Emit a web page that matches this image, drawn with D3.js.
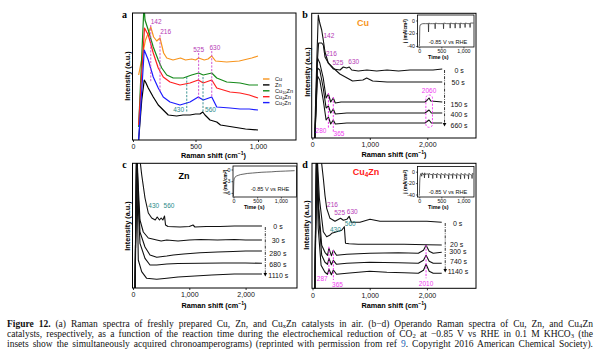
<!DOCTYPE html>
<html><head><meta charset="utf-8">
<script src="https://cdn.jsdelivr.net/npm/d3@7"></script>
<style>body{margin:0;background:#fff}svg{display:block}</style>
</head><body>
<script>
// ================= DATA =================
// Panel a: Raman spectra in air  [shift cm-1, intensity a.u.]
const legendNames  = [["Cu"],["Zn"],["Cu","10","Zn"],["Cu","4","Zn"],["Cu","2","Zn"]];
const legendColors = ["#f7941d","#000000","#15891a","#ff1f1f","#1c1cff"];
const aCu     = [[45,65],[100,100],[142,113],[165,103],[190,99],[216,102],[245,87],[270,82],[320,80],[380,82],[420,80],[470,81],[500,80],[525,82],[570,80],[600,81],[630,84],[660,79],[750,78],[850,79],[950,82],[1000,84]];
const aZn     = [[45,0],[70,40],[90,60],[100,58],[122,52],[162,43],[202,35],[242,30],[282,25],[349,24],[400,25],[456,25],[500,26],[536,26],[558,28],[576,25],[616,20],[670,18],[700,15],[800,13],[900,11],[1000,10]];
const aCu10Zn = [[45,13],[88,135],[96,120],[122,110],[162,93],[202,80],[230,72],[270,65],[322,62],[402,62],[469,65],[525,67],[562,65],[630,67],[670,62],[750,58],[856,57],[930,55],[1000,55]];
const aCu4Zn  = [[45,15],[92,112],[122,105],[162,87],[202,72],[242,63],[296,58],[376,55],[456,57],[522,60],[562,57],[630,60],[670,52],[776,48],[856,47],[930,45],[1000,42]];
const aCu2Zn  = [[45,0],[90,90],[122,80],[162,63],[202,52],[242,43],[296,38],[376,35],[456,38],[522,43],[562,40],[630,43],[670,33],[776,32],[856,31],[930,31],[1000,30]];
const aSeries = [aCu, aZn, aCu10Zn, aCu4Zn, aCu2Zn];

// Panel b: operando Cu
const bTimes = ["0 s","50 s","150 s","400 s","660 s"];
const b0   = [[40,0],[80,80],[104,123],[130,115],[163,108],[191,98],[221,86],[278,75],[365,69],[482,68],[539,71],[597,70],[643,71],[685,68],[800,67],[950,68],[1120,67],[1300,68],[1500,67],[1699,68],[1900,68],[2100,68],[2260,69]];
const b50  = [[45,0],[80,70],[110,95],[163,95],[191,93],[221,81],[278,75],[365,70],[480,64],[700,57],[880,58],[946,60],[1050,57],[1300,56],[1600,56],[1900,56],[2260,56]];
const b150 = [[45,0],[90,80],[130,75],[190,60],[240,40],[280,44],[320,36],[365,40],[400,35],[500,36],[800,36],[1200,36],[1600,36],[1960,36],[2000,38],[2030,40],[2060,37],[2260,36]];
const b400 = [[45,0],[90,70],[130,68],[190,50],[240,30],[280,32],[320,25],[365,29],[400,24],[600,25],[1000,25],[1500,25],[1960,25],[2030,28],[2070,25],[2260,25]];
const b660 = [[45,0],[90,62],[130,58],[190,38],[240,18],[280,21],[320,14],[365,18],[400,14],[600,15],[1000,15],[1500,15],[1960,15],[2030,18],[2070,15],[2260,15]];
const bSeries = [b0, b50, b150, b400, b660];
const bInsetT = [0,6,12,20,40,80,140,205,210,216,250,300,355,360,366,420,490,545,550,556,620,695,700,706,760,808,813,819,870,920,925,931,980,1033,1038,1044,1100,1146,1151,1157,1230];
const bInsetJ = [-40,-36,-10,-7,-6,-5,-5,-5,-18,-4,-5,-5,-5,-13,-4,-5,-5,-5,-13,-4,-5,-5,-12,-4,-5,-5,-12,-4,-5,-5,-12,-4,-5,-5,-11,-4,-5,-5,-11,-4,-4];

// Panel c: operando Zn
const cTimes = ["0 s","30 s","280 s","680 s","1110 s"];
const c0    = [[35,-5],[75,140],[120,130],[155,113],[213,90],[272,75],[332,70],[395,68],[430,71],[470,68],[500,70],[530,68],[560,72],[578,63],[622,61.5],[835,61],[1000,61.5],[1066,63],[1100,61],[1300,61.5],[1545,61.5],[1800,62],[1990,62],[2290,62]];
const c30   = [[35,-5],[65,140],[95,100],[124,68],[183,56],[272,50],[421,48],[500,47],[600,48],[800,47],[1000,48],[1200,48.5],[1500,48],[1800,48.5],[2000,48],[2290,48]];
const c280  = [[35,-5],[65,140],[95,90],[124,56],[213,41],[302,33],[421,30.7],[600,32],[716,33],[900,34],[1190,35.3],[1500,36],[1776,36.5],[2000,37],[2290,37]];
const c680  = [[35,-5],[65,140],[95,80],[124,44.7],[213,29.7],[302,23],[421,23],[600,24],[800,24.5],[1200,24.7],[1600,25],[2000,25],[2290,24.7]];
const c1110 = [[35,-5],[62,140],[85,60],[94,28],[154,16.3],[243,9.7],[421,8.7],[600,9.7],[800,11],[1100,12],[1400,13],[1800,14],[2290,14]];
const cSeries = [c0, c30, c280, c680, c1110];
const cInsetT = [0,4,8,15,30,60,100,150,200,300,400,500,600,700,800,900,1000,1100,1200,1290];
const cInsetJ = [-6.8,-4.5,-3,-2.4,-2,-1.7,-1.5,-1.3,-1.2,-1.0,-0.9,-0.8,-0.7,-0.65,-0.6,-0.5,-0.45,-0.4,-0.35,-0.3];

// Panel d: operando Cu4Zn
const dTimes = ["0 s","20 s","300 s","740 s","1140 s"];
const d0    = [[40,-5],[80,140],[150,130],[189,110],[218,93],[248,80],[306,70],[393,67],[490,70],[540,68],[600,69],[640,72],[680,66],[830,66],[1005,69],[1180,67],[1400,67],[1705,67],[2000,67],[2259,66]];
const d20   = [[40,-5],[75,140],[120,90],[189,56.6],[248,51.6],[300,53],[336,55],[423,56.6],[510,58],[556,61.6],[577,45],[640,44.5],[800,44],[1200,44],[1600,44],[2000,43.5],[2259,43.3]];
const d300  = [[40,-5],[72,140],[110,80],[161,43],[218,36],[262,33],[287,40],[330,32.6],[365,38],[420,33],[600,34],[1000,35],[1500,35.5],[1850,35],[1940,38],[1985,43],[2040,37],[2110,35],[2259,36]];
const d740  = [[40,-5],[70,140],[110,70],[161,33],[218,26],[262,24],[287,30],[330,23.5],[365,28],[420,24],[600,25],[1000,26],[1500,25.5],[1850,25],[1940,28],[1985,33],[2040,27],[2110,25],[2259,25]];
const d1140 = [[40,-5],[68,140],[100,60],[150,23],[218,16],[262,14],[287,19.3],[330,13.5],[365,18.3],[420,14],[600,15],[1000,17],[1300,16],[1600,15.5],[1850,15],[1940,18],[1985,24],[2040,17],[2110,15],[2259,15]];
const dSeries = [d0, d20, d300, d740, d1140];
const dInsetT = [0,4,10,16,25,40,55,70,90,110,118,124,135,170,205,212,220,260,300,306,314,350,390,396,404,440,480,486,494,530,570,576,584,620,660,666,674,710,750,756,764,800,840,846,854,890,930,936,944,980,1020,1026,1034,1070,1110,1116,1124,1160,1190,1196,1204,1230];
const dInsetJ = [-42,-38,-20,-10,-6,-3,-8,-2,-5,-4,-11,-2,-5,-4,-4,-11,-3,-5,-5,-12,-3,-5,-5,-11,-3,-5,-6,-12,-3,-5,-6,-11,-3,-6,-6,-13,-3,-6,-5,-12,-3,-6,-6,-12,-3,-6,-6,-13,-3,-5,-6,-12,-3,-6,-6,-13,-3,-5,-6,-12,-3,-4];

const xTicksA = [0,500,1000];
const xTicksB = [0,1000,2000];
const insetXTicks = [0,500,1000];

// Caption
const captionLines = [
  [["Figure 12.","b"],[" (a) Raman spectra of freshly prepared Cu, Zn, and Cu"],["x","sub"],["Zn catalysts in air. (b\u2212d) Operando Raman spectra of Cu, Zn, and Cu"],["4","sub"],["Zn"]],
  [["catalysts, respectively, as a function of the reaction time during the electrochemical reduction of CO"],["2","sub"],[" at \u22120.85 V vs RHE in 0.1 M KHCO"],["3","sub"],[" (the"]],
  [["insets show the simultaneously acquired chronoamperograms) (reprinted with permission from ref "],["9","link"],[". Copyright 2016 American Chemical Society)."]]
];

// ================= DRAWING =================
const FONT = '"Liberation Sans", Arial, Helvetica, sans-serif';
const SERIF = '"Liberation Serif", "DejaVu Serif", serif';
const svg = d3.select("body").append("svg").attr("width",600).attr("height",356);
svg.append("rect").attr("width",600).attr("height",356).attr("fill","#fff");

const MAG = "#b63ab6", PINK = "#f03cf0", TEAL = "#2b8a8a";

function rich(sel, parts, baseSize, subShift){
  const sd = subShift===undefined ? 0.25 : subShift;
  parts.forEach(p=>{
    const t = sel.append("tspan").text(p[0]);
    if(p[1]==="sub"){ t.attr("dy", baseSize*sd).attr("font-size",baseSize*0.7); }
    if(p[1]==="sup"){ t.attr("dy", -baseSize*0.35).attr("font-size",baseSize*0.7); }
    if(p[1]==="b"){ t.attr("font-weight","bold"); }
    if(p[1]==="link"){ t.attr("fill","#1a5fb4"); }
    if(p[1]==="sub"||p[1]==="sup") sel.node()._shift = (p[1]==="sub"? -baseSize*sd : baseSize*0.35);
    else if(sel.node()._shift){ t.attr("dy", sel.node()._shift); sel.node()._shift = 0; }
  });
  return sel;
}

let clipN = 0;
function makePanel(p){
  const x = d3.scaleLinear().domain([0,p.xMax]).range([p.x0,p.x1]);
  const y = d3.scaleLinear().domain([0,p.yMax]).range([p.bottom,p.top]);
  const id = "clip"+(clipN++);
  svg.append("clipPath").attr("id",id).append("rect")
    .attr("x",p.left).attr("y",p.top).attr("width",p.right-p.left).attr("height",p.bottom-p.top);
  const g = svg.append("g").attr("clip-path",`url(#${id})`);
  const ax = svg.append("g").attr("transform",`translate(0,${p.bottom})`)
    .call(d3.axisBottom(x).tickValues(p.ticks).tickSize(2).tickPadding(2.5).tickFormat(d3.format(",")));
  ax.select(".domain").remove();
  ax.selectAll("text").attr("font-size",7).attr("font-family",FONT).attr("fill","#111");
  ax.selectAll("line").attr("stroke","#000").attr("stroke-width",0.8);
  svg.append("rect").attr("x",p.left).attr("y",p.top).attr("width",p.right-p.left).attr("height",p.bottom-p.top)
    .attr("fill","none").attr("stroke","#000").attr("stroke-width",1);
  const xt = svg.append("text").attr("x",p.xTitleX).attr("y",p.xTitleY).attr("text-anchor","middle")
    .attr("font-family",FONT).attr("font-size",7.3).attr("font-weight","bold");
  rich(xt,[["Raman shift (cm"],["\u22121","sup"],[")"]],7.3);
  svg.append("text").attr("transform",`translate(${p.yTitleX},${p.yTitleY}) rotate(-90)`)
    .attr("text-anchor","middle").attr("dy","0.35em").attr("font-family",FONT).attr("font-size",7.3)
    .attr("font-weight","bold").text("Intensity (a.u.)");
  svg.append("text").attr("x",p.letterX).attr("y",p.letterY).attr("text-anchor","middle")
    .attr("font-family",SERIF).attr("font-size",10).attr("font-weight","bold").text(p.letter);
  return {x,y,g};
}

function drawSeries(P, series, colors, width){
  const line = d3.line().x(d=>P.x(d[0])).y(d=>P.y(d[1]));
  series.forEach((s,i)=>{
    P.g.append("path").attr("d",line(s)).attr("fill","none")
      .attr("stroke",colors[i]).attr("stroke-width",width).attr("stroke-linejoin","round");
  });
}

function label(P, txt, sx, iy, color, anchor, size){
  svg.append("text").attr("x",P.x(sx)).attr("y",P.y(iy)).attr("text-anchor",anchor||"middle")
    .attr("font-family",FONT).attr("font-size",size||6.5).attr("fill",color).text(txt);
}
function vdash(P, sx, i0, i1, color, w){
  svg.append("line").attr("x1",P.x(sx)).attr("x2",P.x(sx)).attr("y1",P.y(i0)).attr("y2",P.y(i1))
    .attr("stroke",color).attr("stroke-width",w||0.9).attr("stroke-dasharray","2.2,1.4");
}
function timeLabels(P, names, xs, ys){
  names.forEach((n,i)=>{
    svg.append("text").attr("x",xs[i]).attr("y",ys[i]).attr("font-family",FONT).attr("font-size",7)
      .attr("fill","#111").text(n);
  });
}
function timeArrow(px, y0, y1){
  svg.append("line").attr("x1",px).attr("x2",px).attr("y1",y0).attr("y2",y1-2.5)
    .attr("stroke","#000").attr("stroke-width",0.8).attr("stroke-dasharray","3,1.2,0.8,1.2");
  svg.append("path").attr("d",`M${px-1.8},${y1-3} L${px+1.8},${y1-3} L${px},${y1+0.5} Z`).attr("fill","#000");
}

function inset(c){
  const x = d3.scaleLinear().domain(c.xd).range([c.l,c.r]);
  const y = d3.scaleLinear().domain(c.yd).range([c.b,c.t]);
  svg.append("rect").attr("x",c.l).attr("y",c.t).attr("width",c.r-c.l).attr("height",c.b-c.t)
    .attr("fill","#fff").attr("stroke","#000").attr("stroke-width",0.8);
  const ax = svg.append("g").attr("transform",`translate(0,${c.b})`)
    .call(d3.axisBottom(x).tickValues(insetXTicks).tickSize(1.5).tickPadding(1).tickFormat(d3.format(",")));
  const ay = svg.append("g").attr("transform",`translate(${c.l},0)`)
    .call(d3.axisLeft(y).tickValues(c.yTicks).tickSize(1.5).tickPadding(1).tickFormat(d=>d===0?"0":"-"+Math.abs(d)));
  [ax,ay].forEach(a=>{
    a.select(".domain").remove();
    a.selectAll("text").attr("font-size",5.3).attr("font-family",FONT).attr("fill","#111");
    a.selectAll("line").attr("stroke","#000").attr("stroke-width",0.6);
  });
  const pts = c.T.map((t,i)=>[t,c.J[i]]);
  svg.append("path").attr("d",d3.line().x(d=>x(d[0])).y(d=>y(d[1]))(pts)).attr("fill","none")
    .attr("stroke","#222").attr("stroke-width",0.7);
  svg.append("text").attr("x",c.vx).attr("y",c.vy).attr("text-anchor","middle").attr("font-family",FONT)
    .attr("font-size",5.6).attr("fill","#111").text("-0.85 V vs RHE");
  svg.append("text").attr("x",x(500)-3).attr("y",c.b+11.5).attr("text-anchor","middle").attr("font-family",FONT)
    .attr("font-size",5.4).attr("font-weight","bold").text("Time (s)");
  const jt = svg.append("text").attr("transform",`translate(${c.jx},${(c.t+c.b)/2}) rotate(-90)`)
    .attr("text-anchor","middle").attr("dy","0.35em").attr("font-family",FONT).attr("font-size",4.8).attr("font-weight","bold");
  rich(jt,[["j (mA/cm"],["2","sup"],[")"]],4.8);
}

// ----- Panel a -----
const PA = makePanel({left:132.5,right:296,top:13,bottom:140,x0:133,x1:296,xMax:1304,yMax:127,ticks:xTicksA,
  xTitleX:213.5,xTitleY:157.5,yTitleX:127.3,yTitleY:76,letter:"a",letterX:124.5,letterY:18});
drawSeries(PA, aSeries, legendColors, 1.2);
vdash(PA,142,115,58,"#cc44cc"); vdash(PA,216,105,48,"#cc44cc");
vdash(PA,525,87,40,"#cc44cc"); vdash(PA,630,89,43,"#cc44cc");
vdash(PA,430,63,28.5,TEAL); vdash(PA,560,63,28.5,TEAL);
label(PA,"142",142,116,MAG,"start"); label(PA,"216",218,106.5,MAG,"start");
label(PA,"525",525,88.5,MAG); label(PA,"630",655,90.5,MAG);
label(PA,"430",365,28,TEAL); label(PA,"560",620,28,TEAL);
legendNames.forEach((n,i)=>{
  const yy = 79 + i*5.9;
  svg.append("line").attr("x1",263).attr("x2",269.5).attr("y1",yy).attr("y2",yy)
    .attr("stroke",legendColors[i]).attr("stroke-width",1.4);
  const t = svg.append("text").attr("x",275).attr("y",yy+2).attr("font-family",FONT)
    .attr("font-size",5.6).attr("fill","#111");
  if(n.length===1) t.text(n[0]); else rich(t,[[n[0]],[n[1],"sub"],[n[2]]],5.6);
});

// ----- Panel b -----
const PB = makePanel({left:311.7,right:476,top:13.3,bottom:138,x0:312.3,x1:476,xMax:2847,yMax:124.7,ticks:xTicksB,
  xTitleX:394,xTitleY:157,yTitleX:307.3,yTitleY:72,letter:"b",letterX:305,letterY:17.5});
drawSeries(PB, bSeries, bSeries.map(()=> "#111"), 1.1);
label(PB,"142",194,100.5,MAG,"start"); label(PB,"216",238,82.5,MAG,"start");
label(PB,"525",351,73.5,MAG,"start"); label(PB,"630",626,74,MAG,"start");
vdash(PB,280,45,10,PINK,1); vdash(PB,365,41,5,PINK,1);
label(PB,"280",151,5.5,PINK); label(PB,"365",464,2,PINK);
svg.append("rect").attr("x",PB.x(1975)).attr("y",PB.y(43)).attr("width",PB.x(2090)-PB.x(1975))
  .attr("height",PB.y(10.7)-PB.y(43)).attr("rx",3).attr("fill","none").attr("stroke",PINK)
  .attr("stroke-width",0.9).attr("stroke-dasharray","2.2,1.4");
label(PB,"2060",2030,45.5,PINK);
svg.append("text").attr("x",363).attr("y",26).attr("text-anchor","middle").attr("font-family",FONT)
  .attr("font-size",9).attr("font-weight","bold").attr("fill","#f7941d").text("Cu");
timeLabels(PB,bTimes,[454.5,451.5,450.5,450.5,450.5],[72.5,85,106.5,117,128]);
timeArrow(PB.x(2300),70,126);
inset({l:417.5,r:474,t:15,b:47,xd:[-40,1240],yd:[-41.6,8.6],yTicks:[0,-20,-40],T:bInsetT,J:bInsetJ,vx:448,vy:43.5,jx:405.5});

// ----- Panel c -----
const PC = makePanel({left:132.5,right:297,top:163.3,bottom:288,x0:133,x1:297,xMax:2913,yMax:124.7,ticks:xTicksB,
  xTitleX:214,xTitleY:307.5,yTitleX:127.3,yTitleY:226,letter:"c",letterX:124.5,letterY:167.5});
drawSeries(PC, cSeries, cSeries.map(()=> "#111"), 1.1);
label(PC,"430",368,80.5,TEAL); label(PC,"560",639,80.5,TEAL);
svg.append("text").attr("x",184).attr("y",178.5).attr("text-anchor","middle").attr("font-family",FONT)
  .attr("font-size",9).attr("font-weight","bold").attr("fill","#000").text("Zn");
timeLabels(PC,cTimes,[273.3,271.7,269.3,269.3,268.3],[229,242.5,256,266.5,277.5]);
timeArrow(PC.x(2350),227,276);
inset({l:233,r:296.5,t:166,b:197,xd:[-10,1330],yd:[-7.05,0.9],yTicks:[0,-3,-6],T:cInsetT,J:cInsetJ,vx:270,vy:190.5,jx:225.5});

// ----- Panel d -----
const PD = makePanel({left:312,right:476,top:163.3,bottom:288.3,x0:312.5,x1:476,xMax:2858,yMax:125,ticks:xTicksB,
  xTitleX:394,xTitleY:307.5,yTitleX:306.7,yTitleY:225,letter:"d",letterX:305,letterY:167.5});
drawSeries(PD, dSeries, dSeries.map(()=> "#111"), 1.1);
label(PD,"216",254,81.8,MAG,"start"); label(PD,"525",380,73.5,MAG,"start"); label(PD,"630",600,74.5,MAG,"start");
label(PD,"430",400,56.3,TEAL); label(PD,"560",660,62.5,TEAL);
vdash(PD,287,41.6,13.3,PINK,1); vdash(PD,365,38.3,8.3,PINK,1); vdash(PD,1985,43.3,10,PINK,1);
label(PD,"287",171,7.8,PINK); label(PD,"365",437,1.8,PINK); label(PD,"2010",1985,2.3,PINK);
const dt = svg.append("text").attr("x",366).attr("y",175).attr("text-anchor","middle").attr("font-family",FONT)
  .attr("font-size",9).attr("font-weight","bold").attr("fill","#ff1a1a");
rich(dt,[["Cu"],["4","sub"],["Zn"]],9);
timeLabels(PD,dTimes,[453,450,449.3,450,447.7],[226,246.5,254,264,274]);
timeArrow(PD.x(2320),223,272);
inset({l:417.5,r:474,t:166.5,b:197,xd:[-40,1240],yd:[-44.4,9.1],yTicks:[0,-20,-40],T:dInsetT,J:dInsetJ,vx:448,vy:193.5,jx:405.5});

// ----- Caption (justified with word spacing) -----
const capY = [327, 337, 347];
captionLines.forEach((parts,i)=>{
  const t = svg.append("text").attr("x",7).attr("y",capY[i]).attr("font-family",SERIF).attr("font-size",9.5)
    .attr("fill","#111");
  rich(t, parts, 9.5, 0.12);
  const len = t.node().getComputedTextLength();
  const spaces = parts.map(p=>p[0]).join("").split(" ").length - 1;
  const target = 586;
  if(len < target) t.attr("word-spacing", ((target-len)/spaces).toFixed(3));
  else t.attr("textLength",target).attr("lengthAdjust","spacingAndGlyphs");
});
</script>
</body></html>
